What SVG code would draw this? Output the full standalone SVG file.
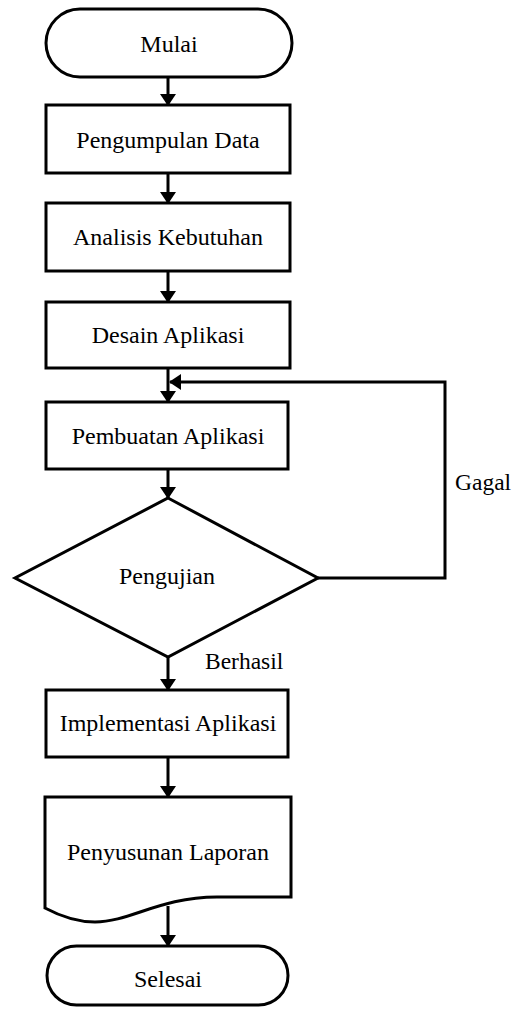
<svg xmlns="http://www.w3.org/2000/svg" width="528" height="1010" viewBox="0 0 528 1010">
  <style>
    .shape { fill: #ffffff; stroke: #000000; stroke-width: 3; }
    .lbl { font-family: "Liberation Serif", "Times New Roman", serif; font-size: 24px; fill: #000000; text-anchor: middle; }
    .side { font-family: "Liberation Serif", "Times New Roman", serif; font-size: 23.5px; fill: #000000; }
    .conn { fill: none; stroke: #000000; stroke-width: 3; marker-end: url(#ah); }
  </style>
  <defs>
    <marker id="ah" viewBox="0 0 12 16" refX="11" refY="8" markerWidth="12" markerHeight="16" orient="auto" markerUnits="userSpaceOnUse">
      <path d="M0,0 L12,8 L0,16 Z" fill="#000000"/>
    </marker>
  </defs>
  <rect width="528" height="1010" fill="#ffffff"/>

  <g id="connectors">
    <line class="conn" x1="168" y1="77" x2="168" y2="105"/>
    <line class="conn" x1="168" y1="173" x2="168" y2="203"/>
    <line class="conn" x1="168" y1="271" x2="168" y2="302"/>
    <line class="conn" x1="168" y1="368" x2="168" y2="402"/>
    <line class="conn" x1="168" y1="469" x2="168" y2="498"/>
    <polyline class="conn" points="318,578 445,578 445,382 170,382"/>
    <line class="conn" x1="168" y1="657" x2="168" y2="690"/>
    <line class="conn" x1="168" y1="757" x2="168" y2="797"/>
    <line class="conn" x1="168" y1="906" x2="168" y2="946"/>
    <text class="side" x="455" y="490">Gagal</text>
    <text class="side" x="205" y="669">Berhasil</text>
  </g>

  <g id="mulai">
    <rect class="shape" x="46" y="9" width="246" height="68" rx="34" ry="34"/>
    <text class="lbl" x="169" y="52">Mulai</text>
  </g>
  <g id="pengumpulan-data">
    <rect class="shape" x="46" y="105" width="244" height="68"/>
    <text class="lbl" x="168" y="148">Pengumpulan Data</text>
  </g>
  <g id="analisis-kebutuhan">
    <rect class="shape" x="46" y="203" width="244" height="68"/>
    <text class="lbl" x="168" y="245">Analisis Kebutuhan</text>
  </g>
  <g id="desain-aplikasi">
    <rect class="shape" x="46" y="302" width="244" height="66"/>
    <text class="lbl" x="168" y="343">Desain Aplikasi</text>
  </g>
  <g id="pembuatan-aplikasi">
    <rect class="shape" x="46" y="402" width="242" height="67"/>
    <text class="lbl" x="168" y="444">Pembuatan Aplikasi</text>
  </g>
  <g id="pengujian">
    <polygon class="shape" points="168,498 318,578 168,657 15,578"/>
    <text class="lbl" x="167" y="584">Pengujian</text>
  </g>
  <g id="implementasi-aplikasi">
    <rect class="shape" x="46" y="690" width="242" height="67"/>
    <text class="lbl" x="168" y="731">Implementasi Aplikasi</text>
  </g>
  <g id="penyusunan-laporan">
    <path class="shape" d="M45,797 H291 V897 H217 C160,897 130,922 95,922 C75,922 60,916 45,908 Z"/>
    <text class="lbl" x="168" y="860">Penyusunan Laporan</text>
  </g>
  <g id="selesai">
    <rect class="shape" x="47" y="946" width="241" height="59" rx="29.5" ry="29.5"/>
    <text class="lbl" x="168" y="987">Selesai</text>
  </g>
</svg>
